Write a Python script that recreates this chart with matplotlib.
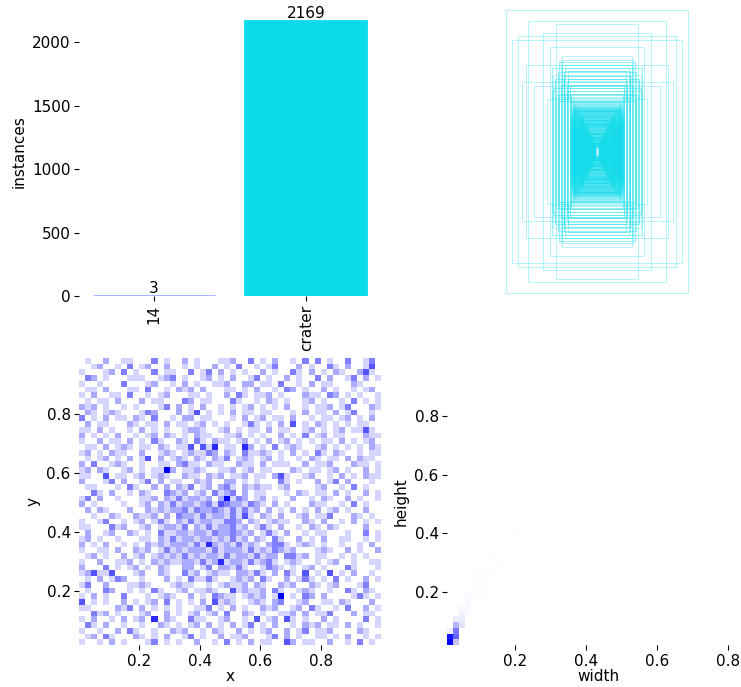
import numpy as np
import matplotlib.pyplot as plt
from matplotlib.colors import LinearSegmentedColormap
from matplotlib.patches import Rectangle

# class counts (top left)
class_names = ["14", "crater"]
class_counts = [3, 2169]
class_colors = ["#042AFF", "#0BDBEB"]

# label boxes drawn centred (top right), width / height as image fraction
box_w = [0.60, 0.46, 0.52, 0.56, 0.50, 0.31, 0.24, 0.29, 0.42, 0.47, 0.36, 0.27,
         0.20, 0.25, 0.18, 0.33, 0.22, 0.19, 0.30, 0.26, 0.21, 0.28, 0.23, 0.20]
box_h = [0.98, 0.90, 0.80, 0.77, 0.48, 0.72, 0.63, 0.53, 0.45, 0.60, 0.82, 0.88,
         0.48, 0.40, 0.44, 0.36, 0.52, 0.56, 0.42, 0.38, 0.58, 0.49, 0.66, 0.45]
mid_w = [0.30, 0.28, 0.26, 0.24, 0.22, 0.20, 0.19, 0.27, 0.23, 0.21, 0.18, 0.25,
         0.29, 0.17, 0.22, 0.26]
mid_h = [0.58, 0.50, 0.55, 0.46, 0.52, 0.42, 0.50, 0.39, 0.60, 0.37, 0.46, 0.62,
         0.44, 0.40, 0.56, 0.35]
core_w = [0.170, 0.166, 0.169, 0.161, 0.158, 0.164, 0.155, 0.151, 0.160, 0.147,
          0.144, 0.153, 0.140, 0.137, 0.149, 0.133, 0.129, 0.142, 0.126, 0.122,
          0.135, 0.118, 0.115, 0.128, 0.111, 0.108, 0.121, 0.104, 0.100, 0.114,
          0.097, 0.093, 0.107, 0.090, 0.086, 0.100, 0.083, 0.079, 0.093, 0.076,
          0.072, 0.086, 0.069, 0.065, 0.079, 0.062, 0.058, 0.072, 0.055, 0.051,
          0.065, 0.048, 0.044, 0.058, 0.041, 0.037, 0.051, 0.034, 0.030, 0.044,
          0.027, 0.023, 0.037, 0.020, 0.016, 0.030, 0.013, 0.024, 0.018, 0.011]
core_h = [0.35, 0.29, 0.24, 0.34, 0.27, 0.22, 0.33, 0.30, 0.20, 0.32,
          0.26, 0.19, 0.31, 0.28, 0.18, 0.30, 0.24, 0.17, 0.29, 0.22,
          0.16, 0.28, 0.25, 0.15, 0.27, 0.21, 0.14, 0.26, 0.23, 0.13,
          0.25, 0.19, 0.12, 0.24, 0.20, 0.11, 0.22, 0.17, 0.10, 0.21,
          0.18, 0.09, 0.19, 0.15, 0.08, 0.17, 0.13, 0.08, 0.15, 0.12,
          0.07, 0.13, 0.10, 0.06, 0.12, 0.09, 0.06, 0.10, 0.08, 0.05,
          0.09, 0.06, 0.05, 0.07, 0.05, 0.04, 0.06, 0.04, 0.03, 0.03]

# x/y centre histogram, 50x50 counts, top row first
xy_x_range = (0.002, 0.998)
xy_y_range = (0.016, 0.991)
xy_rows = [
    "0100200110 0030100201 0001120030 1020010303 0100300130",
    "0012001030 1200200101 0020103001 0130002010 0310200140",
    "1000120301 0030110030 1302010100 2010031020 1021002410",
    "0320100011 1001230100 1201020013 0100201003 0200130201",
    "1001000300 0120010201 0011200220 1103001020 1100021000",
    "0110200011 0300102120 2000110102 0010320100 2010010120",
    "1020011030 0101200011 0100203101 1201000211 0320101001",
    "0101102000 2011000320 1100031001 0210100120 1001030101",
    "2120100101 0001302010 2001010120 1010200101 1201300021",
    "0210121000 1320002014 0101020110 1100010201 1020130010",
    "3010201102 1030010220 1100010201 2011020010 1101201020",
    "0201100021 0110201101 2010100131 0102040102 1010101100",
    "1102010010 2010100122 1001201011 0201100120 1012011410",
    "2010102001 0120210102 1100112010 1002010301 2011000211",
    "1002011020 1031002103 1021101201 0201201010 1102010120",
    "0110201210 1102101140 4150110520 1030121001 2010101021",
    "1201021100 2001210121 1320210311 2101020103 1021001011",
    "0101201020 1402012102 1021301210 1201001021 0110202110",
    "2030012100 1001102311 0211002110 2011100201 1200021101",
    "1202100120 1011620112 1001120120 1100021011 0120100201",
    "1100401101 2012100211 0212011201 1024100120 0102010211",
    "2000130200 1302011002 1200220101 0003101002 0130200010",
    "0110001031 0020202130 1202310212 1101200001 2001030100",
    "0031020010 2100321201 2031230201 1000102101 1020100201",
    "1302001000 1120213122 1202713201 2010020010 2100201001",
    "2010000100 1202131221 2314322132 1020100021 1001030100",
    "0202100020 0212122313 2232131312 0201020102 0120100200",
    "0010021002 1120203221 3122131410 2102001201 1300021010",
    "1001300101 2013102131 2211332021 0121100210 2001020101",
    "1100031200 1201221302 1312231201 3102001021 0210000200",
    "0200120021 0103112212 2132232120 1310200101 1000100301",
    "1201001000 1102131221 2212131202 1031002010 2001100101",
    "2010200101 0212122213 1521213121 0233101210 1001001020",
    "1001102002 1201312122 2131222131 2132120001 2100201002",
    "0120100201 2012121312 1221312213 1220331201 1001010100",
    "1002001120 1021211221 3125122131 2310121001 0120010011",
    "2000301012 0102100220 1302213100 1321010120 1000310001",
    "1241140001 2002100312 0121102213 1020310401 0401020010",
    "0102013200 1000201031 1310012120 3100201310 1030100201",
    "1300200011 2100012110 0101211202 1002120021 0120001300",
    "0100320010 1031001201 1210041211 2031001210 0100310210",
    "1020100300 0101210020 1032110121 2016010320 2000013101",
    "4010100201 0120301010 2041210012 1023001200 1102100020",
    "1100002130 2010101001 1301020100 2120012031 0010300201",
    "0031201000 1200201012 0120300210 1001120201 1300020110",
    "1020010201 2050210031 1001200104 0120410100 2010000301",
    "0310200100 1002101012 0201020130 1020010212 0110201001",
    "1001002031 0010021200 1021002010 1200201301 1200002100",
    "0120310002 1010200130 1002011200 0130201001 1010200101",
    "1001020100 0130101002 0010301020 1100420110 0200103010",
]

# width/height histogram: occupied bins (bin centre values) and counts
wh_range = [[0.008, 0.858], [0.018, 0.998]]
wh_width = [0.016, 0.016, 0.033, 0.033, 0.033, 0.033, 0.016, 0.050, 0.050, 0.033,
            0.050, 0.067, 0.050, 0.067, 0.067, 0.084, 0.084, 0.101, 0.084, 0.118,
            0.101, 0.135, 0.118, 0.152, 0.135, 0.169, 0.152, 0.186, 0.203, 0.220,
            0.220, 0.101, 0.067]
wh_height = [0.028, 0.047, 0.028, 0.047, 0.067, 0.087, 0.067, 0.087, 0.106, 0.106,
             0.126, 0.145, 0.145, 0.165, 0.185, 0.185, 0.204, 0.224, 0.224, 0.243,
             0.263, 0.263, 0.283, 0.302, 0.322, 0.341, 0.361, 0.381, 0.400, 0.420,
             0.440, 0.185, 0.126]
wh_count = [620, 560, 150, 380, 330, 180, 40, 70, 50, 45,
            30, 22, 18, 18, 15, 12, 11, 9, 8, 8,
            7, 6, 6, 5, 5, 4, 4, 4, 3, 3,
            2, 6, 10]

white_blue = LinearSegmentedColormap.from_list("white_blue", ["white", "blue"])

W, H = 741, 687
fig = plt.figure(figsize=(W / 100, H / 100), dpi=100)
plt.rcParams["font.size"] = 11
plt.rcParams["xtick.major.pad"] = 3
plt.rcParams["ytick.major.pad"] = 2.5


def place(x0, y0, x1, y1):
    return fig.add_axes([x0 / W, 1 - y1 / H, (x1 - x0) / W, (y1 - y0) / H])


ax0 = place(79, 7, 381, 296)
ax1 = place(446, 7, 748, 296)
ax2 = place(79, 358, 381, 645)
ax3 = place(447, 358, 749, 645)

# instances per class
pos = np.arange(len(class_names))
bars = ax0.bar(pos, class_counts, width=0.8, color=class_colors,
               edgecolor=class_colors, linewidth=1.3)
bars[0].set_alpha(0.45)
bars[0].set_linewidth(1.8)
ax0.bar_label(bars, fontsize=11)
ax0.set_xticks(pos)
ax0.set_xticklabels(class_names, rotation=90, fontsize=11)
ax0.set_ylabel("instances")

# boxes
groups = [(box_w, box_h, 0.6, 0.35), (mid_w, mid_h, 0.8, 0.4), (core_w, core_h, 1.8, 0.35)]
for ws, hs, lw, al in groups:
    for w, h in zip(ws, hs):
        ax1.add_patch(Rectangle((500 - w * 500, 500 - h * 500), w * 1000, h * 1000,
                                fill=False, edgecolor="#0BDBEB", linewidth=lw, alpha=al))
ax1.set_xlim(0, 1000)
ax1.set_ylim(1000, 0)
ax1.axis("off")

# x / y
counts = np.array([[int(c) for c in r.replace(" ", "")] for r in xy_rows])[::-1]
x_edges = np.linspace(*xy_x_range, counts.shape[1] + 1)
y_edges = np.linspace(*xy_y_range, counts.shape[0] + 1)
ax2.pcolormesh(x_edges, y_edges, counts, cmap=white_blue, vmin=0, vmax=6)
ax2.set_xlabel("x", labelpad=0)
ax2.set_ylabel("y")

# width / height
ax3.hist2d(wh_width, wh_height, bins=50, range=wh_range, weights=wh_count, cmap=white_blue)
ax3.set_xlabel("width", labelpad=0)
ax3.set_ylabel("height")

for a in (ax0, ax1, ax2, ax3):
    for s in ("top", "right", "left", "bottom"):
        a.spines[s].set_visible(False)

fig.savefig("out.png", dpi=100)
